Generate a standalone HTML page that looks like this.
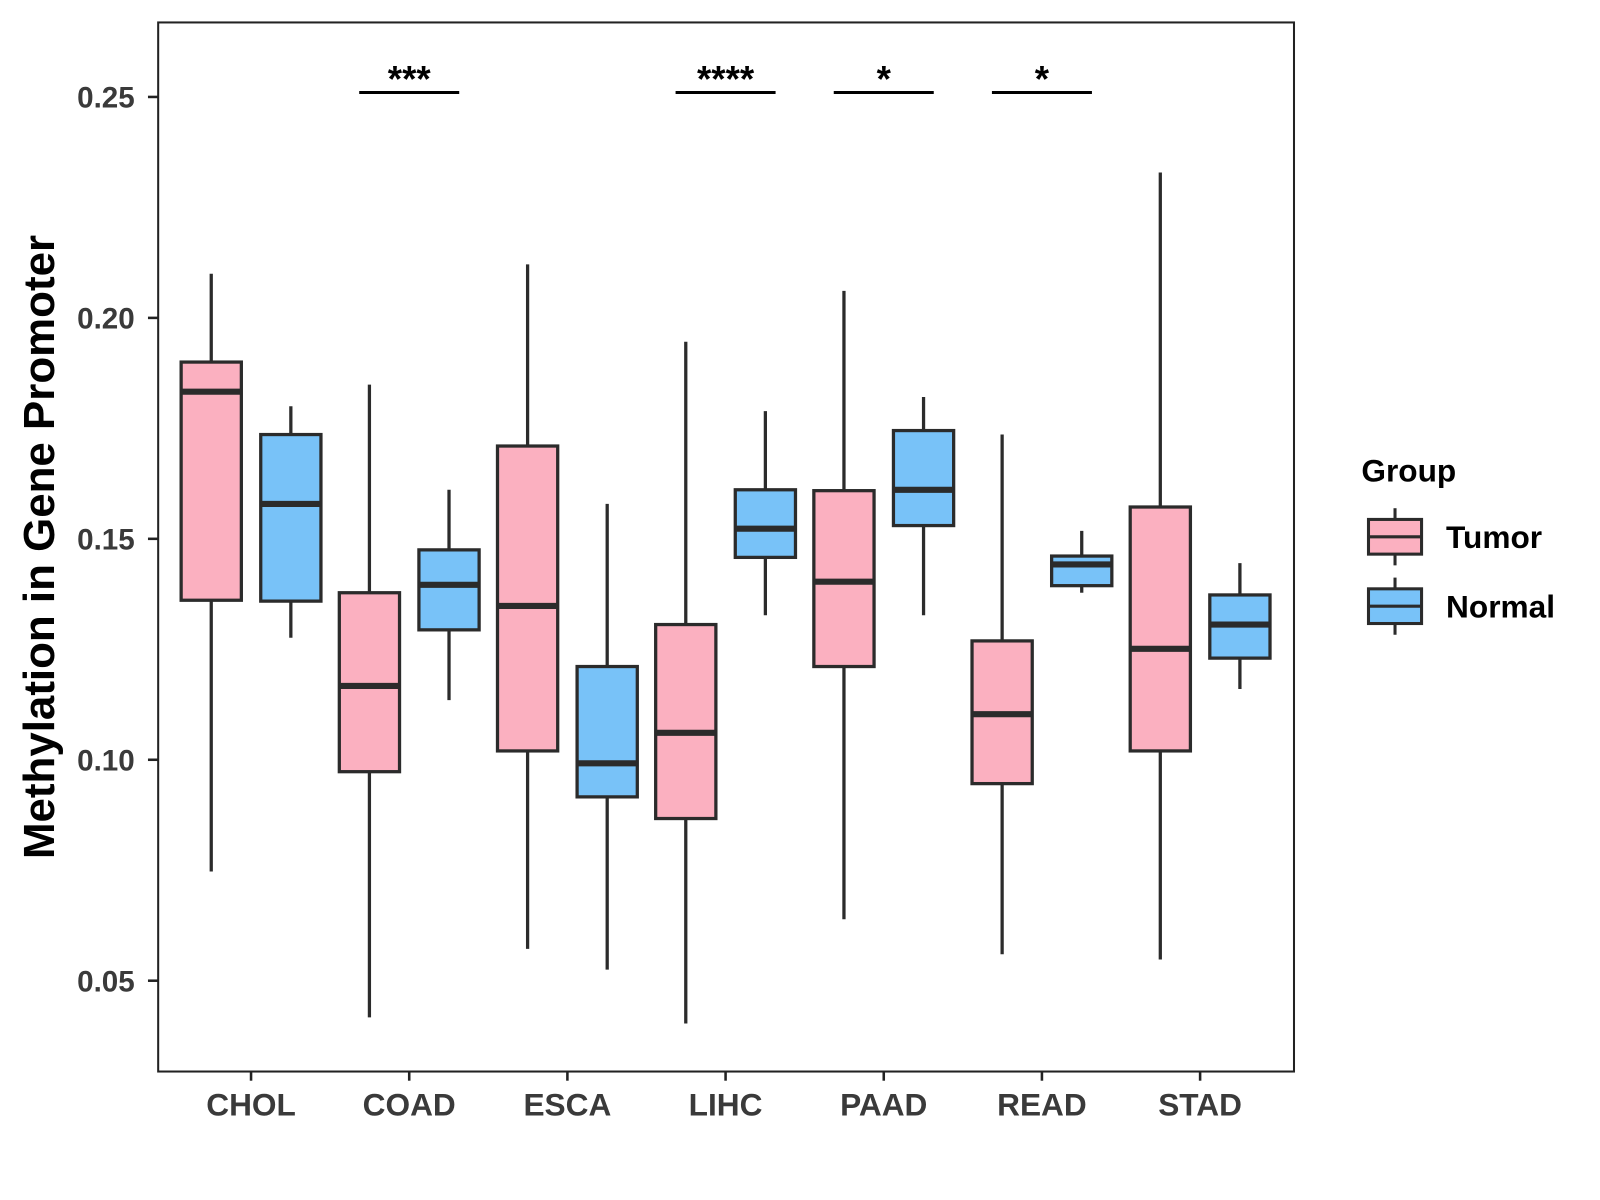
<!DOCTYPE html>
<html><head><meta charset="utf-8"><style>
body{margin:0;background:#fff}
svg{display:block;font-family:"Liberation Sans",Arial,sans-serif}
</style></head><body>
<svg id="chart" width="1600" height="1200" viewBox="0 0 1600 1200">
<g transform="scale(1.0205)">
<rect x="155" y="22" width="1113" height="1028" fill="#fff" stroke="#222" stroke-width="2"/>
<g id="marks"></g>
<text transform="translate(53,536) rotate(-90)" text-anchor="middle" font-size="43" font-weight="bold" fill="#000">Methylation in Gene Promoter</text>
<g>
<text x="1334" y="472" font-size="31" font-weight="bold">Group</text>
<g>
<line x1="1367" y1="498" x2="1367" y2="554" stroke="#2b2b2b" stroke-width="3"/>
<rect x="1341" y="509" width="52" height="34" fill="#FBB0C0" stroke="#2b2b2b" stroke-width="3"/>
<line x1="1341" y1="526" x2="1393" y2="526" stroke="#2b2b2b" stroke-width="3"/>
<text x="1417" y="537" font-size="31" font-weight="bold">Tumor</text></g>
<g>
<line x1="1367" y1="566" x2="1367" y2="622" stroke="#2b2b2b" stroke-width="3"/>
<rect x="1341" y="577" width="52" height="34" fill="#78C2F8" stroke="#2b2b2b" stroke-width="3"/>
<line x1="1341" y1="594" x2="1393" y2="594" stroke="#2b2b2b" stroke-width="3"/>
<text x="1417" y="605" font-size="31" font-weight="bold">Normal</text></g>
</g>
</g>
</svg>
<script>
const categories=["CHOL","COAD","ESCA","LIHC","PAAD","READ","STAD"];
const tumorStats=[[0.0747,0.1361,0.1833,0.1900,0.2100],[0.0417,0.0973,0.1167,0.1378,0.1849],[0.0572,0.1020,0.1348,0.1710,0.2121],[0.0403,0.0867,0.1061,0.1306,0.1946],[0.0639,0.1211,0.1403,0.1609,0.2061],[0.0560,0.0946,0.1103,0.1269,0.1736],[0.0548,0.1020,0.1251,0.1572,0.2329]];
const normalStats=[[0.1276,0.1359,0.1579,0.1736,0.1800],[0.1135,0.1294,0.1396,0.1475,0.1611],[0.0525,0.0916,0.0992,0.1211,0.1579],[0.1327,0.1458,0.1523,0.1611,0.1789],[0.1327,0.1530,0.1611,0.1745,0.1821],[0.1378,0.1394,0.1442,0.1461,0.1518],[0.1160,0.1230,0.1306,0.1373,0.1445]];
const yTicks=[0.05,0.10,0.15,0.20,0.25];
const yTickLabels=["0.05","0.10","0.15","0.20","0.25"];
const sigCategories=["COAD","LIHC","PAAD","READ"];
const sigLabels=["***","****","*","*"];
const sigLevel=0.251;

const NS="http://www.w3.org/2000/svg";
const g=document.getElementById("marks");
function y(v){return 95+(0.25-v)*4330;}
function x(i){return 246+i*155;}
function mk(tag,attrs,parent){const e=document.createElementNS(NS,tag);for(const k in attrs)e.setAttribute(k,attrs[k]);(parent||g).appendChild(e);return e;}
yTicks.forEach((t,i)=>{
  const l=mk("line",{x1:145,x2:155,y1:y(t),y2:y(t),stroke:"#222","stroke-width":2.5});
  
  
  const tx=mk("text",{x:132,y:y(t)+10.5,"text-anchor":"end","font-size":29,"font-weight":"bold",fill:"#3a3a3a"});
  tx.textContent=yTickLabels[i];
  
  
});
categories.forEach((c,i)=>{
  const l=mk("line",{x1:x(i),x2:x(i),y1:1050,y2:1059,stroke:"#222","stroke-width":2.5});
  
  
  const tx=mk("text",{x:x(i),y:1093,"text-anchor":"middle","font-size":31,"font-weight":"bold",fill:"#3a3a3a"});
  tx.textContent=c;
  
  
});
function box(s,cx,fill,name){
  const grp=mk("g",{});
  
  
  mk("line",{x1:cx,x2:cx,y1:y(s[4]),y2:y(s[0]),stroke:"#2b2b2b","stroke-width":3.2},grp);
  mk("rect",{x:cx-29.5,y:y(s[3]),width:59,height:y(s[1])-y(s[3]),fill:fill,stroke:"#2b2b2b","stroke-width":3.2},grp);
  mk("line",{x1:cx-29.5,x2:cx+29.5,y1:y(s[2]),y2:y(s[2]),stroke:"#2b2b2b","stroke-width":6},grp);
}
categories.forEach((c,i)=>{
  box(tumorStats[i],x(i)-39,"#FBB0C0","box-tumor-"+c.toLowerCase());
  box(normalStats[i],x(i)+39,"#78C2F8","box-normal-"+c.toLowerCase());
});
sigCategories.forEach((c,k)=>{
  const i=categories.indexOf(c);
  const l=mk("line",{x1:x(i)-49,x2:x(i)+49,y1:y(sigLevel),y2:y(sigLevel),stroke:"#000","stroke-width":3});
  
  
  const tx=mk("text",{x:x(i),y:y(sigLevel)-1,"text-anchor":"middle","font-size":36,"font-weight":"bold",fill:"#000"});
  tx.textContent=sigLabels[k];
  
  
});
</script>
</body></html>
